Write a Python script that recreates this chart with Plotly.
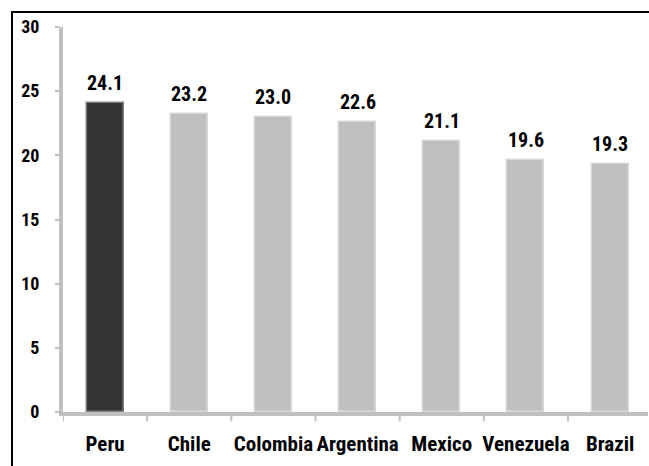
import plotly.graph_objects as go

countries = ["Peru", "Chile", "Colombia", "Argentina", "Mexico", "Venezuela", "Brazil"]
values = [24.1, 23.2, 23.0, 22.6, 21.1, 19.6, 19.3]
bar_colors = ["#333333", "#bfbfbf", "#bfbfbf", "#bfbfbf", "#bfbfbf", "#bfbfbf", "#bfbfbf"]
edge_colors = ["#7f7f7f", "#d9d9d9", "#d9d9d9", "#d9d9d9", "#d9d9d9", "#d9d9d9", "#d9d9d9"]
y_ticks = [0, 5, 10, 15, 20, 25, 30]

FONT = "Liberation Sans Narrow, Arial Narrow, Roboto Condensed, DejaVu Sans Condensed, sans-serif"

W, H = 649, 466
L, R, T, B = 63, 1, 27, 54
pw, ph = W - L - R, H - T - B
step = 84.17

fig = go.Figure()
fig.add_trace(go.Bar(
    x=list(range(len(countries))),
    y=values,
    width=0.44,
    marker=dict(color=bar_colors, line=dict(color=edge_colors, width=1.5)),
    hoverinfo="skip",
))

annotations = [
    dict(x=i, y=v, text=f"{v:.1f}", showarrow=False, yanchor="bottom", yshift=6,
         font=dict(family=FONT, size=20, color="black", weight="bold"))
    for i, v in enumerate(values)
]

x_upper = -0.5 + pw / step

fig.update_layout(
    width=W, height=H,
    margin=dict(l=L, r=R, t=T, b=B, pad=0),
    paper_bgcolor="white", plot_bgcolor="white",
    showlegend=False,
    bargap=0,
    annotations=annotations,
    font=dict(family=FONT, color="black", weight="bold"),
    xaxis=dict(
        range=[-0.5, x_upper],
        tickmode="array",
        tickvals=list(range(len(countries))),
        ticktext=countries,
        showgrid=False, zeroline=False,
        showline=True, linecolor="#c0c0c0", linewidth=4,
        ticks="", ticklabelstandoff=10,
        tickfont=dict(family=FONT, size=21, color="black", weight="bold"),
    ),
    yaxis=dict(
        range=[0, 30],
        tickmode="array", tickvals=y_ticks, ticktext=[str(t) for t in y_ticks],
        showgrid=False, zeroline=False,
        showline=True, linecolor="#c0c0c0", linewidth=4,
        ticks="outside", ticklen=4, tickwidth=2, tickcolor="#c0c0c0",
        ticklabelstandoff=12,
        tickfont=dict(family=FONT, size=18, color="black", weight="bold"),
    ),
)

# minor category-boundary ticks on x axis
boundaries = [i - 0.5 for i in range(len(countries))]
for bx in boundaries:
    fig.add_shape(type="line", xref="x", yref="paper", x0=bx, x1=bx,
                  y0=-0.005, y1=-0.024, line=dict(color="#c0c0c0", width=2))

# outer frame
fx0 = (12 - L) / pw
fy1 = (H - B - 12) / ph
fig.add_shape(type="rect", xref="paper", yref="paper", x0=fx0, x1=1.3, y0=-0.4, y1=fy1,
              line=dict(color="black", width=2), layer="below")

fig.write_html("out.html")
